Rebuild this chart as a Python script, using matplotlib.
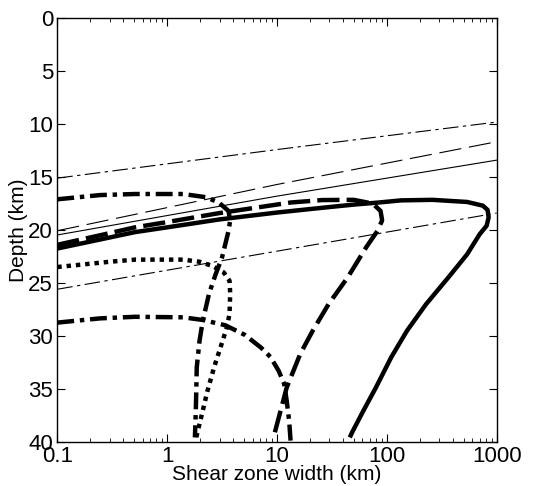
import matplotlib
matplotlib.use("Agg")
import matplotlib.pyplot as plt
from matplotlib.ticker import FixedLocator, LogLocator, NullFormatter

plt.rcParams['font.family'] = ['Liberation Sans', 'DejaVu Sans']

# ---- data (shear zone width in km, depth in km) ----
thin_dd_up_x = [0.1, 10, 1000]
thin_dd_up_d = [15.1, 12.4, 9.8]
thin_dash_x = [0.1, 10, 1000]
thin_dash_d = [20.07, 15.7, 11.66]
thin_solid_x = [0.1, 10, 1000]
thin_solid_d = [20.47, 16.8, 13.4]
thin_dd_lo_x = [0.1, 10, 1000]
thin_dd_lo_d = [25.6, 22.0, 18.4]

solid_x = [0.1, 0.245, 0.51, 1, 3, 10, 25.9, 50, 85, 135, 260, 538, 748, 826, 845,
           810, 700, 538, 362, 228, 153, 110, 79.4, 61, 48.4, 46]
solid_d = [21.75, 20.9, 20.2, 19.75, 19.0, 18.35, 17.9, 17.6, 17.4, 17.2, 17.15, 17.35, 17.7, 18.1, 18.8,
           19.6, 20.4, 22.3, 24.5, 27.0, 29.5, 32.0, 34.9, 37.1, 39.1, 39.6]

dash_x = [0.1, 0.245, 0.51, 1, 3, 13.4, 25.9, 50, 74.3, 87.7, 90.6, 82, 65.2,
          43.9, 29.5, 21.2, 16.3, 12.25, 9.3]
dash_d = [21.4, 20.5, 19.75, 19.25, 18.4, 17.4, 17.17, 17.15, 17.5, 18.2, 19.1, 20.1, 21.6,
          24.5, 27.0, 29.5, 31.7, 34.9, 39.6]

dd_up_x = [0.1, 0.245, 0.51, 1.4, 2.25, 2.95, 3.62, 3.75, 3.62, 3.16, 2.76, 2.41,
           2.11, 1.97, 1.86, 1.84, 1.82, 1.79]
dd_up_d = [17.1, 16.7, 16.6, 16.6, 16.9, 17.4, 18.2, 19.1, 20.1, 22.6, 24.2, 26.0,
           28.6, 30.5, 33.0, 35.5, 37.4, 39.6]

dot_x = [0.1, 0.3, 0.51, 1.4, 1.97, 2.58, 3.27, 3.70, 3.75, 3.70, 3.5, 3.06, 2.67,
         2.33, 2.04, 1.84]
dot_d = [23.5, 23.0, 22.8, 22.8, 23.0, 23.4, 24.0, 24.8, 26.0, 27.9, 29.2, 31.1, 33.0,
         35.2, 37.7, 39.6]

dd_lo_x = [0.1, 0.245, 0.51, 1.4, 2.11, 3.38, 5.08, 7.13, 8.73, 10.35, 11.6, 12.25, 12.9, 13.3]
dd_lo_d = [28.75, 28.35, 28.2, 28.25, 28.5, 29.0, 29.9, 31.1, 32.0, 33.3, 34.5, 36.1, 38.0, 39.9]

xticks = [0.1, 1, 10, 100, 1000]
xticklabels = ['0.1', '1', '10', '100', '1000']
yticks = [0, 5, 10, 15, 20, 25, 30, 35, 40]

# ---- figure ----
fig = plt.figure(figsize=(5.44, 4.86), dpi=100)
ax = fig.add_axes([0.1053, 0.0912, 0.8077, 0.8711])

thin = 0.8
thick = 3.2
ax.plot(thin_dd_up_x, thin_dd_up_d, color='k', lw=thin, dashes=(14, 4, 3, 4))
ax.plot(thin_dash_x, thin_dash_d, color='k', lw=thin, dashes=(20, 7))
ax.plot(thin_solid_x, thin_solid_d, color='k', lw=thin)
ax.plot(thin_dd_lo_x, thin_dd_lo_d, color='k', lw=thin, dashes=(14, 4, 3, 4))

ax.plot(solid_x, solid_d, color='k', lw=thick, solid_joinstyle='round', solid_capstyle='butt')
ax.plot(dash_x, dash_d, color='k', lw=thick, dashes=(5.0, 1.6), dash_capstyle='butt')
ax.plot(dd_up_x, dd_up_d, color='k', lw=thick, dashes=(3.8, 1.3, 1, 1.3), dash_capstyle='butt')
ax.plot(dot_x, dot_d, color='k', lw=thick, dashes=(1, 1.1), dash_capstyle='butt')
ax.plot(dd_lo_x, dd_lo_d, color='k', lw=thick, dashes=(3.8, 1.3, 1, 1.3), dash_capstyle='butt')

ax.set_xscale('log')
ax.set_xlim(0.1, 1000)
ax.set_ylim(40, 0)
ax.xaxis.set_major_locator(FixedLocator(xticks))
ax.set_xticklabels(xticklabels)
ax.xaxis.set_minor_locator(LogLocator(base=10, subs=range(2, 10)))
ax.xaxis.set_minor_formatter(NullFormatter())
ax.set_yticks(yticks)
ax.set_yticklabels([str(v) for v in yticks])

ax.tick_params(which='both', direction='in', top=True, right=True, labelsize=16)
ax.tick_params(axis='x', pad=3)
ax.tick_params(axis='y', pad=3)
ax.tick_params(which='major', length=6, width=0.8)
ax.tick_params(which='minor', length=3, width=0.6)
for s in ax.spines.values():
    s.set_linewidth(1.0)

ax.set_xlabel('Shear zone width (km)', fontsize=15, labelpad=-1)
ax.set_ylabel('Depth (km)', fontsize=15, labelpad=0)

fig.savefig('out.png', dpi=100)
